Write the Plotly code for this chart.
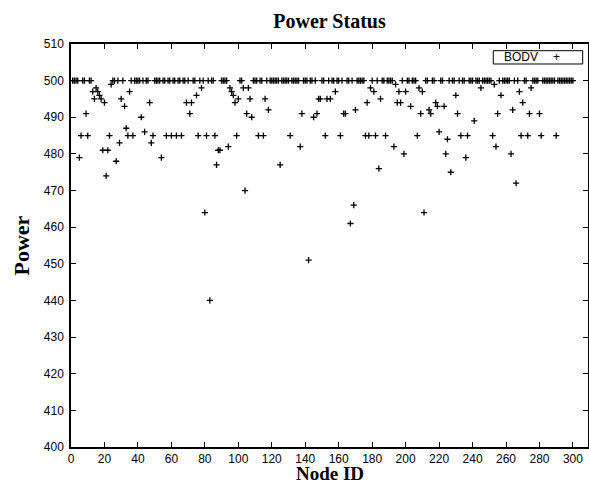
import plotly.graph_objects as go

# Node IDs and power readings
node_id = list(range(1, 301))
power = [
    500, 500, 500, 500, 479, 485, 500, 500, 491, 485,
    500, 500, 497, 495, 498, 497, 496, 495, 481, 494,
    474, 481, 485, 499, 500, 500, 478, 500, 483, 495,
    500, 493, 487, 485, 497, 500, 485, 500, 500, 500,
    500, 490, 500, 486, 500, 500, 494, 483, 485, 500,
    500, 500, 500, 479, 500, 500, 485, 500, 500, 485,
    500, 500, 485, 500, 500, 485, 500, 500, 494, 500,
    491, 494, 500, 500, 496, 485, 500, 498, 500, 464,
    485, 500, 440, 500, 500, 485, 477, 481, 481, 500,
    500, 500, 500, 482, 498, 497, 496, 494, 485, 495,
    500, 500, 498, 470, 491, 498, 495, 490, 500, 500,
    500, 485, 500, 500, 485, 495, 500, 492, 500, 500,
    500, 500, 500, 500, 477, 500, 500, 500, 500, 500,
    485, 500, 500, 500, 500, 500, 482, 491, 500, 500,
    500, 451, 500, 500, 490, 500, 491, 495, 495, 500,
    500, 485, 495, 500, 495, 500, 500, 497, 500, 500,
    485, 500, 491, 491, 500, 500, 461, 500, 466, 492,
    500, 500, 500, 500, 500, 485, 494, 485, 498, 500,
    497, 485, 500, 476, 495, 500, 500, 485, 500, 500,
    500, 500, 482, 499, 494, 497, 494, 500, 480, 497,
    500, 500, 493, 500, 500, 500, 485, 498, 491, 497,
    464, 500, 500, 492, 491, 500, 500, 494, 493, 486,
    500, 500, 493, 480, 484, 500, 475, 500, 500, 496,
    491, 500, 485, 500, 500, 479, 485, 500, 500, 500,
    489, 500, 500, 500, 498, 500, 500, 500, 500, 500,
    500, 485, 499, 482, 491, 500, 496, 500, 500, 500,
    500, 500, 480, 492, 500, 472, 500, 497, 485, 494,
    500, 500, 485, 491, 498, 500, 500, 500, 500, 491,
    485, 500, 500, 500, 500, 500, 500, 500, 500, 485,
    500, 500, 500, 500, 500, 500, 500, 500, 500, 500,
]
series_name = "BODV"
x_ticks = list(range(0, 301, 20))
y_ticks = list(range(400, 511, 10))

SANS = "Liberation Sans, Arial, Helvetica, sans-serif"
SERIF = "Liberation Serif, Times New Roman, serif"

fig = go.Figure(
    go.Scatter(
        x=node_id,
        y=power,
        mode="markers",
        name=series_name,
        showlegend=False,
        marker=dict(symbol="cross-thin", size=4.4, color="black",
                    line=dict(color="black", width=1.3)),
    )
)

axis_common = dict(
    ticks="inside", ticklen=5, tickwidth=1, tickcolor="black",
    showline=True, linecolor="black", linewidth=1.5, mirror="ticks",
    showgrid=False, zeroline=False, automargin=False,
    tickfont=dict(family=SANS, size=12, color="black"),
)

# gnuplot-style key: label on the left, sample symbol on the right, boxed
key_box = dict(x0=0.8168, x1=0.9897, y0=0.9504, y1=0.9834)
fig.add_shape(type="rect", xref="paper", yref="paper", line=dict(color="black", width=1),
              fillcolor="white", layer="above", **key_box)
fig.add_annotation(text=series_name, xref="paper", yref="paper", x=0.8333, y=0.9669,
                   xanchor="left", yanchor="middle", showarrow=False,
                   font=dict(family=SANS, size=12, color="black"))
fig.add_annotation(text="+", xref="paper", yref="paper", x=0.9395, y=0.9669,
                   xanchor="center", yanchor="middle", showarrow=False,
                   font=dict(family=SANS, size=12, color="black"))

# axis labels placed like gnuplot's xlabel / ylabel
fig.add_annotation(text="<b>Power</b>", xref="paper", yref="paper",
                   x=(21 - 71) / 517, y=0.5, xanchor="center", yanchor="middle",
                   textangle=-90, showarrow=False,
                   font=dict(family=SERIF, size=22, color="black"))
fig.add_annotation(text="<b>Node ID</b>", xref="paper", yref="paper",
                   x=0.5, y=-(485 - 447) / 403, xanchor="center", yanchor="bottom",
                   showarrow=False, borderpad=0,
                   font=dict(family=SERIF, size=19, color="black"))

fig.update_layout(
    width=589, height=485,
    margin=dict(l=71, r=1, t=44, b=38),
    paper_bgcolor="white", plot_bgcolor="white",
    showlegend=False,
    title=dict(text="<b>Power Status</b>", font=dict(family=SERIF, size=20, color="black"),
               x=0.5, xref="paper", xanchor="center",
               y=1 - 20.5 / 485, yref="container", yanchor="middle"),
    xaxis=dict(range=[0, 309], tickvals=x_ticks, ticklabelstandoff=0, **axis_common),
    yaxis=dict(range=[400, 510], tickvals=y_ticks, ticklabelstandoff=3, **axis_common),
)

fig.write_html("out.html")
